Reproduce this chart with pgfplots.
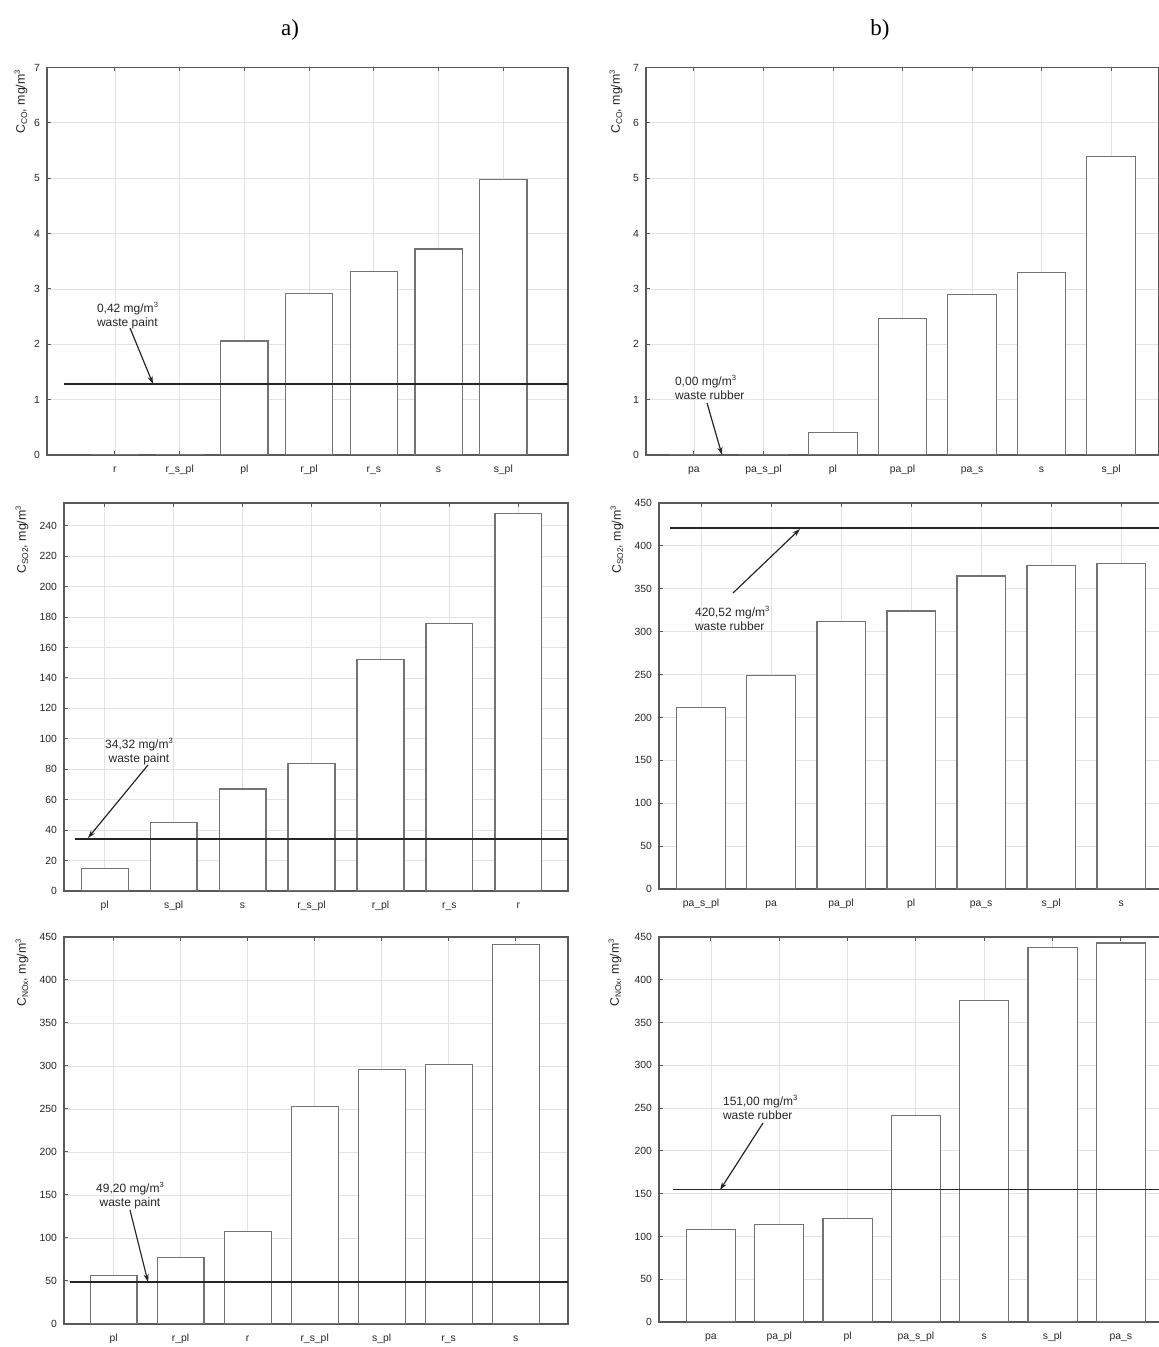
\documentclass[border=0pt]{standalone}
\usepackage{fontspec}
\setmainfont{Liberation Sans}
\newfontfamily\seriffont{Liberation Serif}
\usepackage{pgfplots}
\pgfplotsset{compat=1.18}
\usetikzlibrary{arrows.meta}

\newcommand{\cube}{\raisebox{0.75ex}{\fontsize{3.8}{4}\selectfont 3}}
\newcommand{\sub}[1]{\raisebox{-0.35ex}{\fontsize{4.2}{4.5}\selectfont #1}}

\pgfplotsset{
  panel/.style={scale only axis, anchor=south west, ymin=0, xtick={0,...,6},
    grid=major, grid style={gray!22,line width=0.4pt},
    axis line style={line width=0.8pt, black!65},
    tick style={black!65, line width=0.5pt}, tick align=inside, major tick length=2pt,
    xtick pos=both, ytick pos=left,
    ticklabel style={font=\fontsize{5.2}{6}\selectfont, black!85},
    xticklabel style={text height=1.3ex, text depth=0.3ex, inner sep=1.5pt},
    /pgf/number format/assume math mode=true},
  mybar/.style={ybar, bar shift=0pt, fill=white, draw=black!55, line width=0.6pt},
  refl/.style={black!85, line width=0.85pt},
}
\tikzset{ann/.style={font=\fontsize{6}{7}\selectfont, black!85},
  arr/.style={black!85, line width=0.6pt, -{Stealth[length=4pt,width=2.6pt]}},
  ylab/.style={rotate=90, anchor=east, font=\fontsize{6.2}{7}\selectfont, black!85}}

\begin{document}
\begin{tikzpicture}
\useasboundingbox (0pt,0pt) rectangle (579pt,673.5pt);

% ---------- a) top ----------
\begin{axis}[panel, at={(23.5pt,446pt)}, width=260.5pt, height=193.75pt,
  xmin=-1.05, xmax=7.0, ymax=7, ytick={0,...,7},
  xticklabels={r,r\_s\_pl,pl,r\_pl,r\_s,s,s\_pl}]
\addplot[mybar, bar width=0.73] coordinates {(0,0) (1,0) (2,2.06) (3,2.91) (4,3.32) (5,3.72) (6,4.97)};
\addplot[refl] coordinates {(-0.79,1.28) (7.0,1.28)};
\end{axis}

% ---------- b) top ----------
\begin{axis}[panel, at={(323pt,446pt)}, width=256.5pt, height=193.75pt,
  xmin=-0.69, xmax=6.69, ymax=7, ytick={0,...,7},
  xticklabels={pa,pa\_s\_pl,pl,pa\_pl,pa\_s,s,s\_pl}]
\addplot[mybar, bar width=0.70] coordinates {(0,0) (1,0) (2,0.40) (3,2.47) (4,2.90) (5,3.30) (6,5.39)};
\end{axis}

% ---------- a) middle ----------
\begin{axis}[panel, at={(32pt,228pt)}, width=252pt, height=194pt,
  xmin=-0.59, xmax=6.72, ymax=255, ytick={0,20,...,240},
  xticklabels={pl,s\_pl,s,r\_s\_pl,r\_pl,r\_s,r}]
\addplot[mybar, bar width=0.68] coordinates {(0,15) (1,45) (2,67) (3,84) (4,152) (5,176) (6,248)};
\addplot[refl] coordinates {(-0.43,34.32) (6.72,34.32)};
\end{axis}

% ---------- b) middle ----------
\begin{axis}[panel, at={(329.5pt,229pt)}, width=253.5pt, height=193pt,
  xmin=-0.6, xmax=6.64, ymax=450, ytick={0,50,...,450},
  xticklabels={pa\_s\_pl,pa,pa\_pl,pl,pa\_s,s\_pl,s}]
\addplot[mybar, bar width=0.69] coordinates {(0,212) (1,249) (2,311.6) (3,324) (4,365) (5,377) (6,379)};
\addplot[refl] coordinates {(-0.44,420.52) (6.64,420.52)};
\end{axis}

% ---------- a) bottom ----------
\begin{axis}[panel, at={(32pt,11.5pt)}, width=252pt, height=193.5pt,
  xmin=-0.74, xmax=6.78, ymax=450, ytick={0,50,...,450},
  xticklabels={pl,r\_pl,r,r\_s\_pl,s\_pl,r\_s,s}]
\addplot[mybar, bar width=0.70] coordinates {(0,56) (1,77) (2,108) (3,253) (4,296) (5,302) (6,441)};
\addplot[refl] coordinates {(-0.65,49.2) (6.78,49.2)};
\end{axis}

% ---------- b) bottom ----------
\begin{axis}[panel, at={(329.5pt,12.5pt)}, width=255.5pt, height=192.5pt,
  xmin=-0.76, xmax=6.72, ymax=450, ytick={0,50,...,450},
  xticklabels={pa,pa\_pl,pl,pa\_s\_pl,s,s\_pl,pa\_s}]
\addplot[mybar, bar width=0.72] coordinates {(0,108) (1,114) (2,121) (3,241) (4,376) (5,438) (6,443)};
\addplot[refl] coordinates {(-0.55,155) (6.72,155)};
\end{axis}

\begin{scope}[x=0.5pt, y=-0.5pt, shift={(0pt,673.5pt)}]
% titles
\node[font=\seriffont\fontsize{11.5}{13}\selectfont] at (290,30) {a)};
\node[font=\seriffont\fontsize{11.5}{13}\selectfont] at (880,30) {b)};

% y labels
\node[ylab] at (21,63) {C\sub{CO}, mg/m\cube};
\node[ylab] at (616,63) {C\sub{CO}, mg/m\cube};
\node[ylab] at (22,499) {C\sub{SO2}, mg/m\cube};
\node[ylab] at (617,499) {C\sub{SO2}, mg/m\cube};
\node[ylab] at (22,932) {C\sub{NOx}, mg/m\cube};
\node[ylab] at (615,932) {C\sub{NOx}, mg/m\cube};

% annotations
\node[ann, anchor=north west, align=left] at (90,295) {0,42 mg/m\cube\\waste paint};
\draw[arr] (130,328) -- (153,384);
\node[ann, anchor=north west, align=left] at (668,368) {0,00 mg/m\cube\\waste rubber};
\draw[arr] (707,403) -- (722,455);
\node[ann, anchor=north, align=center] at (139,731) {34,32 mg/m\cube\\waste paint};
\draw[arr] (148,765) -- (88,838);
\node[ann, anchor=north west, align=left] at (688,599) {420,52 mg/m\cube\\waste rubber};
\draw[arr] (733,593) -- (800,529);
\node[ann, anchor=north, align=center] at (130,1175) {49,20 mg/m\cube\\waste paint};
\draw[arr] (130,1210) -- (148,1282);
\node[ann, anchor=north west, align=left] at (716,1088) {151,00 mg/m\cube\\waste rubber};
\draw[arr] (763,1123) -- (720,1190);
\end{scope}
\end{tikzpicture}
\end{document}
